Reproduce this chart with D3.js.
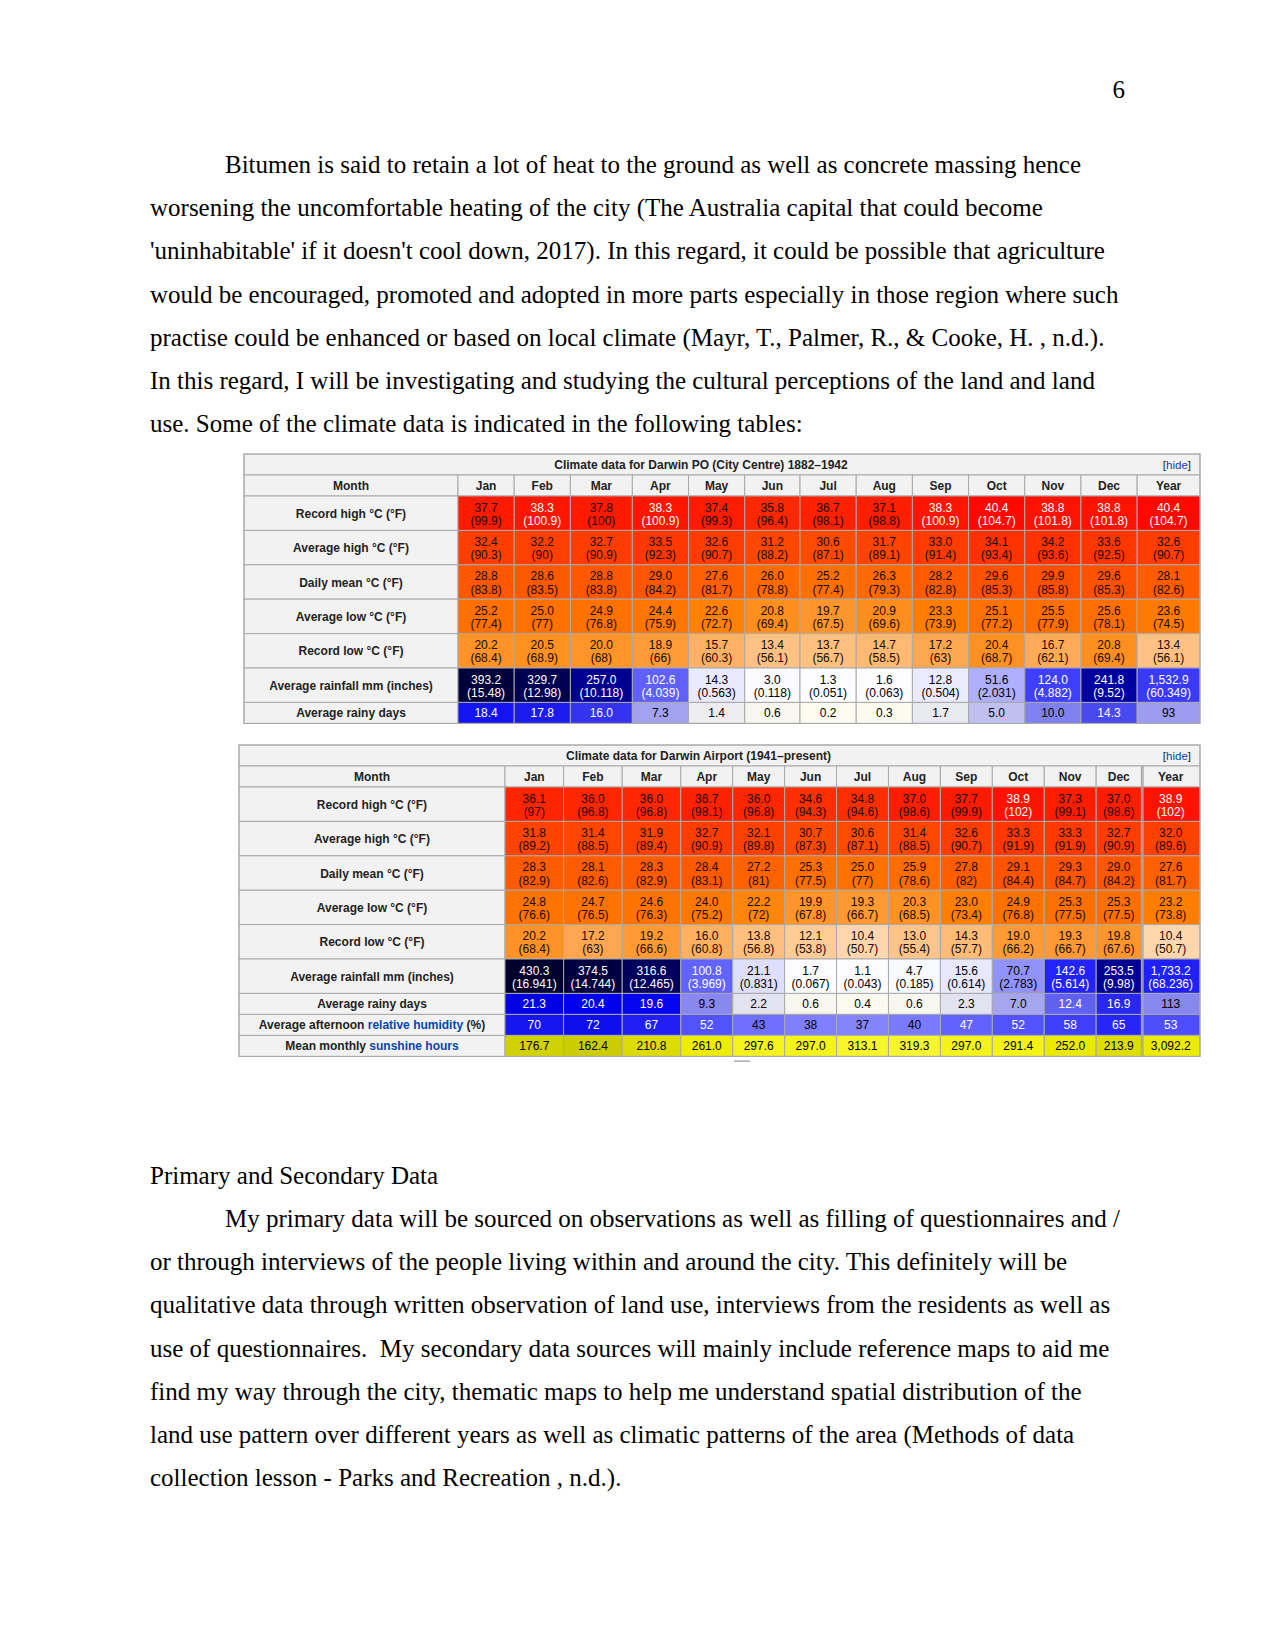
<!DOCTYPE html>
<html><head><meta charset="utf-8">
<script src="https://cdn.jsdelivr.net/npm/d3@7"></script>
<style>
body{margin:0;background:#fff}
svg{display:block}
.body{font-family:"Liberation Serif","Times New Roman",serif;font-size:25px;fill:#000;white-space:pre}
.cell{font-family:"Liberation Sans",Arial,sans-serif;font-size:12px}
.lbl{font-family:"Liberation Sans",Arial,sans-serif;font-size:12px;font-weight:bold;fill:#222}
.cap{font-family:"Liberation Sans",Arial,sans-serif;font-size:12px;font-weight:bold;fill:#222}
.hide{font-family:"Liberation Sans",Arial,sans-serif;font-size:11.5px;fill:#222}
</style></head><body>
<svg id="page" width="1275" height="1651"></svg>
<script>
// ---------------- DATA ----------------
const months = ["Jan","Feb","Mar","Apr","May","Jun","Jul","Aug","Sep","Oct","Nov","Dec","Year"];

// Table 1: Darwin PO (City Centre) 1882–1942
const t1Title = "Climate data for Darwin PO (City Centre) 1882–1942";
const t1RecordHighC = [37.7,38.3,37.8,38.3,37.4,35.8,36.7,37.1,38.3,40.4,38.8,38.8,40.4];
const t1RecordHighF = [99.9,100.9,100,100.9,99.3,96.4,98.1,98.8,100.9,104.7,101.8,101.8,104.7];
const t1AvgHighC = [32.4,32.2,32.7,33.5,32.6,31.2,30.6,31.7,33.0,34.1,34.2,33.6,32.6];
const t1AvgHighF = [90.3,90,90.9,92.3,90.7,88.2,87.1,89.1,91.4,93.4,93.6,92.5,90.7];
const t1MeanC = [28.8,28.6,28.8,29.0,27.6,26.0,25.2,26.3,28.2,29.6,29.9,29.6,28.1];
const t1MeanF = [83.8,83.5,83.8,84.2,81.7,78.8,77.4,79.3,82.8,85.3,85.8,85.3,82.6];
const t1AvgLowC = [25.2,25.0,24.9,24.4,22.6,20.8,19.7,20.9,23.3,25.1,25.5,25.6,23.6];
const t1AvgLowF = [77.4,77,76.8,75.9,72.7,69.4,67.5,69.6,73.9,77.2,77.9,78.1,74.5];
const t1RecordLowC = [20.2,20.5,20.0,18.9,15.7,13.4,13.7,14.7,17.2,20.4,16.7,20.8,13.4];
const t1RecordLowF = [68.4,68.9,68,66,60.3,56.1,56.7,58.5,63,68.7,62.1,69.4,56.1];
const t1RainMm = [393.2,329.7,257.0,102.6,14.3,3.0,1.3,1.6,12.8,51.6,124.0,241.8,1532.9];
const t1RainIn = [15.48,12.98,10.118,4.039,0.563,0.118,0.051,0.063,0.504,2.031,4.882,9.52,60.349];
const t1RainDays = [18.4,17.8,16.0,7.3,1.4,0.6,0.2,0.3,1.7,5.0,10.0,14.3,93];

// Table 2: Darwin Airport (1941–present)
const t2Title = "Climate data for Darwin Airport (1941–present)";
const t2RecordHighC = [36.1,36.0,36.0,36.7,36.0,34.6,34.8,37.0,37.7,38.9,37.3,37.0,38.9];
const t2RecordHighF = [97,96.8,96.8,98.1,96.8,94.3,94.6,98.6,99.9,102,99.1,98.6,102];
const t2AvgHighC = [31.8,31.4,31.9,32.7,32.1,30.7,30.6,31.4,32.6,33.3,33.3,32.7,32.0];
const t2AvgHighF = [89.2,88.5,89.4,90.9,89.8,87.3,87.1,88.5,90.7,91.9,91.9,90.9,89.6];
const t2MeanC = [28.3,28.1,28.3,28.4,27.2,25.3,25.0,25.9,27.8,29.1,29.3,29.0,27.6];
const t2MeanF = [82.9,82.6,82.9,83.1,81,77.5,77,78.6,82,84.4,84.7,84.2,81.7];
const t2AvgLowC = [24.8,24.7,24.6,24.0,22.2,19.9,19.3,20.3,23.0,24.9,25.3,25.3,23.2];
const t2AvgLowF = [76.6,76.5,76.3,75.2,72,67.8,66.7,68.5,73.4,76.8,77.5,77.5,73.8];
const t2RecordLowC = [20.2,17.2,19.2,16.0,13.8,12.1,10.4,13.0,14.3,19.0,19.3,19.8,10.4];
const t2RecordLowF = [68.4,63,66.6,60.8,56.8,53.8,50.7,55.4,57.7,66.2,66.7,67.6,50.7];
const t2RainMm = [430.3,374.5,316.6,100.8,21.1,1.7,1.1,4.7,15.6,70.7,142.6,253.5,1733.2];
const t2RainIn = [16.941,14.744,12.465,3.969,0.831,0.067,0.043,0.185,0.614,2.783,5.614,9.98,68.236];
const t2RainDays = [21.3,20.4,19.6,9.3,2.2,0.6,0.4,0.6,2.3,7.0,12.4,16.9,113];
const t2Humidity = [70,72,67,52,43,38,37,40,47,52,58,65,53];
const t2Sunshine = [176.7,162.4,210.8,261.0,297.6,297.0,313.1,319.3,297.0,291.4,252.0,213.9,3092.2];

// Page text
const pageNumber = "6";
const para1 = [
  "Bitumen is said to retain a lot of heat to the ground as well as concrete massing hence",
  "worsening the uncomfortable heating of the city (The Australia capital that could become",
  "'uninhabitable' if it doesn't cool down, 2017). In this regard, it could be possible that agriculture",
  "would be encouraged, promoted and adopted in more parts especially in those region where such",
  "practise could be enhanced or based on local climate (Mayr, T., Palmer, R., & Cooke, H. , n.d.).",
  "In this regard, I will be investigating and studying the cultural perceptions of the land and land",
  "use. Some of the climate data is indicated in the following tables:"
];
const heading2 = "Primary and Secondary Data";
const para2 = [
  "My primary data will be sourced on observations as well as filling of questionnaires and /",
  "or through interviews of the people living within and around the city. This definitely will be",
  "qualitative data through written observation of land use, interviews from the residents as well as",
  "use of questionnaires.  My secondary data sources will mainly include reference maps to aid me",
  "find my way through the city, thematic maps to help me understand spatial distribution of the",
  "land use pattern over different years as well as climatic patterns of the area (Methods of data",
  "collection lesson - Parks and Recreation , n.d.)."
];

// ---------------- RENDER ----------------
const svg = d3.select("#page");
svg.append("rect").attr("width",1275).attr("height",1651).attr("fill","#fff");

// page text
svg.append("text").attr("class","body").attr("x",1125).attr("y",98).attr("text-anchor","end").text(pageNumber);
const lineH = 43.2;
svg.append("g").selectAll("text").data(para1).join("text").attr("class","body")
  .attr("x",(d,i)=>i===0?225:150).attr("y",(d,i)=>173+i*lineH).text(d=>d);
svg.append("text").attr("class","body").attr("x",150).attr("y",1184).text(heading2);
svg.append("g").selectAll("text").data(para2).join("text").attr("class","body")
  .attr("x",(d,i)=>i===0?225:150).attr("y",(d,i)=>1227+i*lineH).text(d=>d);

// colour scales
const tempG = d3.scaleLinear().domain([4.5,41.5]).range([255,0]).clamp(true);
const tempB = d3.scaleLinear().domain([4.5,23]).range([255,0]).clamp(true);
const rainRG = d3.scaleLinear().domain([0,165]).range([255,0]).clamp(true);
const rainB = d3.scaleLinear().domain([165,250,330,430]).range([255,150,80,45]).clamp(true);
const dayRG = d3.scaleLinear().domain([0,20]).range([255,0]).clamp(true);
const dayB = d3.scaleLinear().domain([20,30]).range([240,150]).clamp(true);
const humRG = d3.scaleLinear().domain([0,76.5]).range([255,0]).clamp(true);
const humB = d3.scaleLinear().domain([60,80]).range([255,225]).clamp(true);
const sunRG = d3.scaleLinear().domain([150,270,330]).range([200,240,248]).clamp(true);
const sunB = d3.scaleLinear().domain([270,330]).range([0,60]).clamp(true);
const rgb = (r,g,b)=>d3.rgb(Math.round(r),Math.round(g),Math.round(b)).formatHex();

const f1 = d3.format(".1f"), fC = d3.format(",.1f"), fI = d3.format("d");

function tempRow(label,c,f){
  return {label, lines:2, cells:c.map((v,i)=>({t:[f1(v),"("+f[i]+")"],
    fill:rgb(255,tempG(v),tempB(v)), color: v>=38?"#fff":"#1a0a00"}))};
}
function rainRow(label,mm,inch){
  return {label, lines:2, cells:mm.map((v,i)=>{const m=i===12?v/12:v; const rg=rainRG(m);
    return {t:[i===12?fC(v):f1(v),"("+inch[i]+")"], fill:rgb(rg,rg,rainB(m)), color: rg<110?"#fff":"#000"};})};
}
function daysRow(label,d){
  return {label, lines:1, cells:d.map((v,i)=>{const m=i===12?v/12:v; const rg=dayRG(m);
    return {t:[i===12?fI(v):f1(v)], fill:rgb(rg,rg,dayB(m)), color: rg<110?"#fff":"#000"};})};
}
function humRow(label,h){
  return {label, lines:1, cells:h.map(v=>{const rg=humRG(v);
    return {t:[fI(v)], fill:rgb(rg,rg,humB(v)), color: rg<110?"#fff":"#000"};})};
}
function sunRow(label,s){
  return {label, lines:1, cells:s.map((v,i)=>{const m=i===12?v/12:v;
    return {t:[i===12?fC(v):f1(v)], fill:rgb(sunRG(m),sunRG(m),sunB(m)), color:"#000"};})};
}

const table1 = {title:t1Title, left:244, labelRight:458, right:1200, top:454, yearDouble:false,
  rows:[
    tempRow("Record high °C (°F)",t1RecordHighC,t1RecordHighF),
    tempRow("Average high °C (°F)",t1AvgHighC,t1AvgHighF),
    tempRow("Daily mean °C (°F)",t1MeanC,t1MeanF),
    tempRow("Average low °C (°F)",t1AvgLowC,t1AvgLowF),
    tempRow("Record low °C (°F)",t1RecordLowC,t1RecordLowF),
    rainRow("Average rainfall mm (inches)",t1RainMm,t1RainIn),
    daysRow("Average rainy days",t1RainDays)
  ]};
const table2 = {title:t2Title, left:239, labelRight:505, right:1200, top:745, yearDouble:true,
  rows:[
    tempRow("Record high °C (°F)",t2RecordHighC,t2RecordHighF),
    tempRow("Average high °C (°F)",t2AvgHighC,t2AvgHighF),
    tempRow("Daily mean °C (°F)",t2MeanC,t2MeanF),
    tempRow("Average low °C (°F)",t2AvgLowC,t2AvgLowF),
    tempRow("Record low °C (°F)",t2RecordLowC,t2RecordLowF),
    rainRow("Average rainfall mm (inches)",t2RainMm,t2RainIn),
    daysRow("Average rainy days",t2RainDays),
    humRow(["Average afternoon ","relative humidity"," (%)"],t2Humidity),
    sunRow(["Mean monthly ","sunshine hours",""],t2Sunshine)
  ]};

function measure(str){
  const t = svg.append("text").attr("class","cell").text(str);
  const w = t.node().getComputedTextLength(); t.remove(); return w;
}

function drawTable(T){
  const g = svg.append("g");
  const titleH = 21, headH = 21, h2 = 34.4, h1 = 21, pad = 14;
  // column widths from content
  const natural = months.map((m,j)=>d3.max(T.rows, r=>d3.max(r.cells[j].t, s=>measure(s)))+pad);
  const extra = ((T.right - T.labelRight) - d3.sum(natural))/months.length;
  const widths = natural.map(w=>w+extra);
  const lefts = widths.map((w,j)=>T.labelRight + d3.sum(widths.slice(0,j)));
  const x = d3.scaleOrdinal().domain(months).range(lefts);
  const wOf = d3.scaleOrdinal().domain(months).range(widths);
  // row positions
  const rowH = T.rows.map(r=>r.lines===2?h2:h1);
  const rowTop = rowH.map((h,i)=>T.top+titleH+headH+d3.sum(rowH.slice(0,i)));
  const bottom = T.top+titleH+headH+d3.sum(rowH);
  const stroke = "#a9a9a9";

  // title row
  g.append("rect").attr("x",T.left).attr("y",T.top).attr("width",T.right-T.left).attr("height",titleH)
    .attr("fill","#f2f2f2").attr("stroke",stroke);
  g.append("text").attr("class","cap").attr("x",(T.left+T.right)/2-21).attr("y",T.top+15)
    .attr("text-anchor","middle").text(T.title);
  const hd = g.append("text").attr("class","hide").attr("x",T.right-9).attr("y",T.top+15).attr("text-anchor","end");
  hd.append("tspan").text("[");
  hd.append("tspan").attr("fill","#0645ad").text("hide");
  hd.append("tspan").text("]");

  // header row
  const hy = T.top+titleH;
  g.append("rect").attr("x",T.left).attr("y",hy).attr("width",T.labelRight-T.left).attr("height",headH)
    .attr("fill","#f2f2f2").attr("stroke",stroke);
  g.append("text").attr("class","lbl").attr("x",(T.left+T.labelRight)/2).attr("y",hy+15)
    .attr("text-anchor","middle").text("Month");
  g.selectAll("rect.mh").data(months).join("rect").attr("class","mh")
    .attr("x",d=>x(d)).attr("y",hy).attr("width",d=>wOf(d)).attr("height",headH)
    .attr("fill","#f2f2f2").attr("stroke",stroke);
  g.selectAll("text.mh").data(months).join("text").attr("class","lbl mh")
    .attr("x",d=>x(d)+wOf(d)/2).attr("y",hy+15).attr("text-anchor","middle").text(d=>d);

  // body rows
  T.rows.forEach((r,i)=>{
    const y0 = rowTop[i], h = rowH[i];
    g.append("rect").attr("x",T.left).attr("y",y0).attr("width",T.labelRight-T.left).attr("height",h)
      .attr("fill","#f2f2f2").attr("stroke",stroke);
    const lt = g.append("text").attr("class","lbl").attr("x",(T.left+T.labelRight)/2).attr("y",y0+h/2+4.5)
      .attr("text-anchor","middle");
    if (Array.isArray(r.label)) {
      lt.append("tspan").text(r.label[0]);
      lt.append("tspan").attr("fill","#0645ad").text(r.label[1]);
      if (r.label[2]) lt.append("tspan").text(r.label[2]);
    } else lt.text(r.label);
    const cells = r.cells.map((c,j)=>Object.assign({m:months[j]},c));
    g.selectAll(null).data(cells).join("rect")
      .attr("x",d=>x(d.m)).attr("y",y0).attr("width",d=>wOf(d.m)).attr("height",h)
      .attr("fill",d=>d.fill).attr("stroke",stroke).attr("stroke-width",1);
    cells.forEach(c=>{
      c.t.forEach((s,k)=>{
        g.append("text").attr("class","cell").attr("fill",c.color)
          .attr("x",x(c.m)+wOf(c.m)/2)
          .attr("y", r.lines===2 ? y0+15.5+k*13.2 : y0+15)
          .attr("text-anchor","middle").text(s);
      });
    });
  });
  // outer frame
  g.append("rect").attr("x",T.left).attr("y",T.top).attr("width",T.right-T.left).attr("height",bottom-T.top)
    .attr("fill","none").attr("stroke",stroke);
  if (T.yearDouble) {
    g.append("line").attr("x1",x("Year")+1.5).attr("x2",x("Year")+1.5).attr("y1",hy).attr("y2",bottom)
      .attr("stroke",stroke).attr("stroke-width",1.5);
  }
  return bottom;
}

drawTable(table1);
const b2 = drawTable(table2);
svg.append("rect").attr("x",734).attr("y",b2+4).attr("width",16).attr("height",1.5).attr("fill","#aab");
</script>
</body></html>
